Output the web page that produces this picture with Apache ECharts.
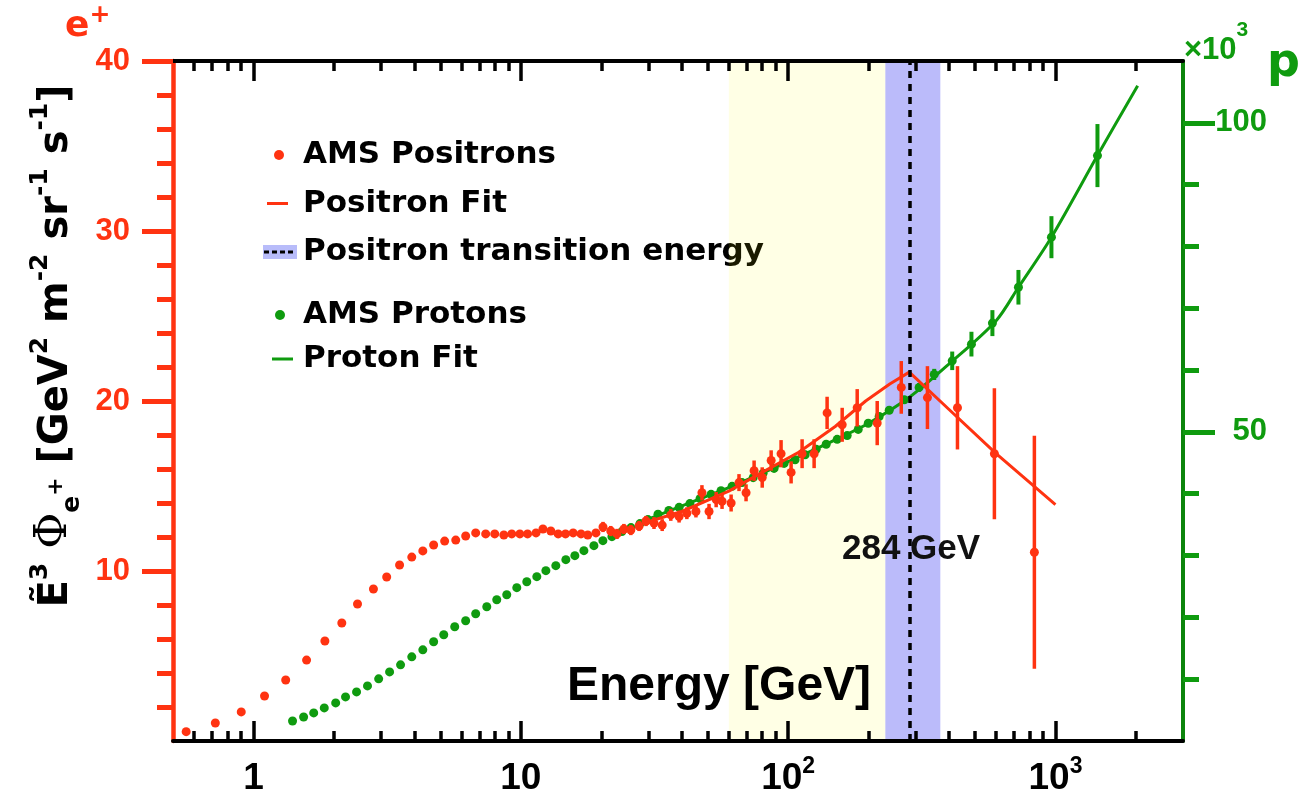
<!DOCTYPE html>
<html><head><meta charset="utf-8">
<script src="https://cdn.jsdelivr.net/npm/echarts@6/dist/echarts.min.js"></script>
<style>html,body{margin:0;padding:0;background:#fff}#c{width:1301px;height:797px}</style>
</head><body><div id="c"></div>
<script>
// ---- data ----
const posE = [0.56,0.72,0.90,1.10,1.32,1.58,1.85,2.14,2.45,2.81,3.15,3.52,3.91,4.30,4.72,5.19,5.71,6.22,6.78,7.39,7.99,8.64,9.25,9.92,10.6,11.4,12.1,12.95,13.8,14.7,15.7,16.8,17.8,19.1,20.3,21.7,22.9,24.3,25.8,27.7,29.4,31.5,33.8,36.4,39.1,41.8,45.2,47.6,50.6,53.8,56.6,61.2,65.5,69.6,74.6,80.0,86.4,94.1,102.6,112.8,125.1,139.9,159.3,181.3,215.4,265,332,430,591,834];
const posV = [0.55,1.06,1.71,2.65,3.59,4.76,5.88,6.94,8.06,8.94,9.65,10.35,10.82,11.18,11.53,11.76,11.82,12.06,12.24,12.18,12.18,12.12,12.18,12.18,12.18,12.24,12.47,12.35,12.18,12.18,12.24,12.18,12.12,12.24,12.59,12.35,12.18,12.47,12.41,12.65,12.94,12.82,12.7,13.3,13.2,13.4,13.5,14.6,13.5,14.2,14.1,14.0,15.2,14.6,15.9,15.5,16.5,16.9,15.8,16.9,16.9,19.3,18.6,19.6,18.7,20.8,20.2,19.6,16.9,11.1];
const posErr = [0,0,0,0,0,0,0,0,0,0,0,0,0,0,0,0,0,0,0,0,0,0,0,0,0,0,0,0,0,0.2,0.2,0.2,0.2,0.2,0.3,0.3,0.3,0.3,0.3,0.3,0.3,0.35,0.35,0.35,0.35,0.35,0.35,0.45,0.45,0.45,0.45,0.5,0.5,0.5,0.6,0.6,0.6,0.8,0.65,0.85,0.85,0.95,1.0,1.1,1.3,1.55,1.85,2.45,3.85,6.85];

const protE = [1.40,1.54,1.68,1.84,2.03,2.21,2.43,2.67,2.94,3.23,3.55,3.91,4.30,4.72,5.15,5.66,6.22,6.78,7.46,8.13,8.86,9.66,10.53,11.48,12.41,13.52,14.74,15.93,17.22,18.77,20.28,21.92,23.89,25.83,27.91,29.90,32.6,35.8,39.1,42.9,46.8,51.5,56.1,61.7,67.2,74.0,80.6,88.6,96.6,106.2,115.8,127.3,138.8,152.6,166.3,182.9,199.4,219.1,238.9,272,309,352,411,485,581,727,966,1436];
const protV = [3.24,3.89,4.54,5.35,6.16,7.13,7.94,8.91,10.05,11.18,12.32,13.61,14.75,16.05,17.18,18.48,19.45,20.58,21.72,22.85,23.66,24.80,25.77,26.58,27.55,28.36,29.34,29.98,30.79,31.60,32.41,33.06,33.87,34.52,35.17,35.82,36.7,37.3,37.8,38.4,39.2,39.9,40.5,41.2,41.8,42.6,43.3,44.1,44.9,45.5,46.3,47.2,48.0,48.8,49.4,50.4,51.4,52.5,53.5,55.2,57.2,59.3,61.5,64.2,67.6,73.4,81.5,94.7];
const protErr = [0,0,0,0,0,0,0,0,0,0,0,0,0,0,0,0,0,0,0,0,0,0,0,0,0,0,0,0,0,0,0,0,0,0,0,0,0,0,0,0,0,0,0,0,0,0,0,0,0,0.3,0.3,0.3,0.3,0.3,0.3,0.35,0.35,0.4,0.45,0.6,0.7,0.9,1.5,2.0,2.1,2.8,3.4,5.1];

const posFitE = [30,40,60,80,110,150,195,240,284,400,600,1000];
const posFitV = [12.9,13.5,14.7,15.8,17.0,18.5,20.0,21.0,21.7,19.5,16.9,13.9];
const protFitE = [30,45,60,100,150,200,284,400,600,727,966,1436,2030];
const protFitV = [35.9,38.9,41.0,45.2,48.7,51.4,55.6,61.0,68.0,73.4,81.5,94.7,106.0];

const transitionEnergy = 284;
const transitionBand = [231, 371];
const yellowBand = [60, 231];

const xMajorTicks = [1,10,100,1000];
const xMinorTicks = [0.6,0.7,0.8,0.9,2,3,4,5,6,7,8,9,20,30,40,50,60,70,80,90,200,300,400,500,600,700,800,900,2000];
const yLeftLabels = [10,20,30,40];
const yLeftMinor = [2,4,6,8,12,14,16,18,22,24,26,28,32,34,36,38];
const yRightLabels = [50,100];
const yRightMinor = [10,20,30,40,60,70,80,90];

// ---- styling ----
const RED = '#ff3311', GREEN = '#0f9b0f', GREEN_AX = '#0c850c';
const LS = 'Liberation Sans, Arial, sans-serif';
const DV = 'DejaVu Sans, sans-serif';

function zip(a, b) { return a.map((v, i) => [v, b[i]]); }
function errData(E, V, Err) {
  const d = [];
  for (let i = 0; i < E.length; i++) if (Err[i] > 0) d.push([E[i], V[i] - Err[i], V[i] + Err[i]]);
  return d;
}
function errSeries(data, yIdx, color, width, z) {
  return {
    type: 'custom', xAxisIndex: 0, yAxisIndex: yIdx, z: z, silent: true, clip: true,
    encode: { x: 0, y: [1, 2] }, data: data,
    renderItem: function (params, api) {
      const a = api.coord([api.value(0), api.value(1)]);
      const b = api.coord([api.value(0), api.value(2)]);
      return { type: 'line', shape: { x1: a[0], y1: a[1], x2: b[0], y2: b[1] },
        style: { stroke: color, lineWidth: width } };
    }
  };
}
function svgIcon(inner) {
  const svg = '<svg xmlns="http://www.w3.org/2000/svg" width="36" height="16" viewBox="0 0 36 16">' + inner + '</svg>';
  return 'image://data:image/svg+xml;charset=utf-8,' + encodeURIComponent(svg);
}
function fmtX(v) {
  const e = Math.round(Math.log10(v));
  if (e === 0) return '{b|1}';
  if (e === 1) return '{b|10}';
  return '{b|10}{s|' + e + '}';
}

const legendText = { fontSize: 31, fontWeight: 'bold', color: '#000', fontFamily: DV, lineHeight: 36 };

function xAx(pos, ticks, len, line, labels) {
  return {
    type: 'log', logBase: 10, min: 0.5, max: 3000, position: pos, z: 20,
    axisLine: { show: line, onZero: false, lineStyle: { color: '#000', width: 4 } },
    axisTick: { show: true, inside: true, length: len, customValues: ticks, lineStyle: { color: '#000', width: 3.5 } },
    minorTick: { show: false },
    axisLabel: labels ? {
      show: true, customValues: xMajorTicks, margin: 14, formatter: fmtX,
      rich: {
        b: { fontSize: 37, fontWeight: 'bold', fontFamily: LS, color: '#000', lineHeight: 42, verticalAlign: 'bottom' },
        s: { fontSize: 23, fontWeight: 'bold', fontFamily: LS, color: '#000', lineHeight: 24, verticalAlign: 'top' }
      }
    } : { show: false },
    splitLine: { show: false }
  };
}
function yAx(pos, max, ticks, len, color, line, labels, extra) {
  return {
    type: 'value', min: 0, max: max, position: pos, z: 20,
    axisLine: { show: line, onZero: false, lineStyle: { color: pos === 'left' ? RED : GREEN_AX, width: pos === 'left' ? 4.5 : 4 } },
    axisTick: { show: true, inside: false, length: len, customValues: ticks, lineStyle: { color: color, width: 5 } },
    minorTick: { show: false },
    axisLabel: labels ? Object.assign({ show: true, customValues: labels, color: color, fontSize: 31, fontWeight: 'bold', fontFamily: LS }, extra || {}) : { show: false },
    splitLine: { show: false }
  };
}

const yLeft = yAx('left', 40, yLeftMinor, 16, RED, true, yLeftLabels, { margin: 43 });
yLeft.name = '{b|Ẽ}{sup|3}{b| }{phi|Φ}{sub|e}{subsup|+}{b| [GeV}{sup|2}{b| m}{sup|-2}{b| sr}{sup|-1}{b| s}{sup|-1}{b|]}';
yLeft.nameLocation = 'middle';
yLeft.nameRotate = 90;
yLeft.nameGap = 84;
yLeft.nameTextStyle = {
  color: '#000', fontFamily: DV, fontWeight: 'bold', fontSize: 40, padding: [0, 0, 0, 110],
  rich: {
    b: { fontSize: 40, fontWeight: 'bold', fontFamily: DV, color: '#000', lineHeight: 44, verticalAlign: 'bottom', padding: [0, 0, 8, 0] },
    sup: { fontSize: 25, fontWeight: 'bold', fontFamily: DV, color: '#000', lineHeight: 25, verticalAlign: 'bottom', padding: [0, 0, 32, 0] },
    phi: { fontSize: 44, fontWeight: 'normal', fontFamily: 'DejaVu Serif, serif', color: '#000', lineHeight: 44, verticalAlign: 'bottom', padding: [0, 0, 8, 0] },
    sub: { fontSize: 25, fontWeight: 'bold', fontFamily: DV, color: '#000', lineHeight: 25, verticalAlign: 'bottom' },
    subsup: { fontSize: 22, fontWeight: 'bold', fontFamily: DV, color: '#000', lineHeight: 22, verticalAlign: 'bottom', padding: [0, 0, 17, 0] }
  }
};
const yRight = yAx('right', 110, yRightMinor, 16, GREEN, true, yRightLabels, { margin: 84, align: 'right' });

const option = {
  animation: false,
  backgroundColor: '#fff',
  grid: { left: 173, right: 118, top: 61, bottom: 56, containLabel: false, outerBoundsMode: 'none' },
  title: [
    { text: '{e|e}{p|+}', left: 65, top: 3, padding: 0, z: 30,
      textStyle: { rich: {
        e: { fontSize: 36, fontWeight: 'bold', fontFamily: DV, color: RED, lineHeight: 42, verticalAlign: 'bottom' },
        p: { fontSize: 25, fontWeight: 'bold', fontFamily: DV, color: RED, lineHeight: 25, verticalAlign: 'top' } } } },
    { text: '{a|×10}{s|3}', left: 1184, top: 20, padding: 0, z: 30,
      textStyle: { rich: {
        a: { fontSize: 31, fontWeight: 'bold', fontFamily: LS, color: GREEN, lineHeight: 46, verticalAlign: 'bottom' },
        s: { fontSize: 21, fontWeight: 'bold', fontFamily: LS, color: GREEN, lineHeight: 21, verticalAlign: 'top' } } } },
    { text: 'p', left: 1267, top: 40, padding: 0, z: 30,
      textStyle: { fontSize: 46, fontWeight: 'bold', fontFamily: DV, color: GREEN, lineHeight: 48 } },
    { text: 'Energy [GeV]', left: 567, top: 663, padding: 0, z: 1,
      textStyle: { fontSize: 48, fontWeight: 'bold', fontFamily: LS, color: '#000', lineHeight: 48 } },
    { text: '284 GeV', left: 842, top: 532, padding: 0, z: 1,
      textStyle: { fontSize: 35, fontWeight: 'bold', fontFamily: LS, color: '#111', lineHeight: 35 } }
  ],
  legend: [
    { orient: 'vertical', left: 262, top: 137, itemWidth: 36, itemHeight: 16, itemGap: 12.5, itemTextGap: 22, padding: 0, z: 1,
      selectedMode: false, textStyle: legendText,
      data: [
        { name: 'AMS Positrons', icon: svgIcon('<circle cx="17" cy="8" r="5" fill="' + RED + '"/>') },
        { name: 'Positron Fit', icon: svgIcon('<rect x="5" y="6.5" width="21" height="3" fill="' + RED + '"/>') },
        { name: 'Positron transition energy', icon: svgIcon('<rect x="1" y="1" width="34" height="14" fill="rgb(184,188,250)"/><line x1="2" y1="8" x2="34" y2="8" stroke="#000" stroke-width="3" stroke-dasharray="5,3"/>') }
      ] },
    { orient: 'vertical', left: 262, top: 297, itemWidth: 36, itemHeight: 16, itemGap: 8, itemTextGap: 22, padding: 0, z: 1,
      selectedMode: false, textStyle: legendText,
      data: [
        { name: 'AMS Protons', icon: svgIcon('<circle cx="18" cy="8" r="5" fill="' + GREEN + '"/>') },
        { name: 'Proton Fit', icon: svgIcon('<rect x="10" y="6.5" width="21" height="3" fill="' + GREEN + '"/>') }
      ] }
  ],
  xAxis: [
    xAx('bottom', xMajorTicks, 20, true, true),
    xAx('bottom', xMinorTicks, 10, false, false),
    xAx('top', xMajorTicks, 20, true, false),
    xAx('top', xMinorTicks, 10, false, false)
  ],
  yAxis: [
    yLeft,
    yRight,
    yAx('left', 40, yLeftLabels, 31, RED, false, null),
    yAx('right', 110, yRightLabels, 32, GREEN, false, null)
  ],
  series: [
    { name: 'AMS Protons', type: 'scatter', xAxisIndex: 0, yAxisIndex: 1, z: 2, silent: true,
      symbol: 'circle', symbolSize: 9, itemStyle: { color: GREEN, opacity: 1 }, data: zip(protE, protV) },
    errSeries(errData(protE, protV, protErr), 1, GREEN, 4, 2),
    { name: 'Proton Fit', type: 'line', xAxisIndex: 0, yAxisIndex: 1, z: 2, silent: true,
      smooth: 0.3, showSymbol: false, symbol: 'none', lineStyle: { color: GREEN, width: 3 }, itemStyle: { color: GREEN },
      data: zip(protFitE, protFitV) },
    errSeries(errData(posE, posV, posErr), 0, RED, 3.5, 3),
    { name: 'AMS Positrons', type: 'scatter', xAxisIndex: 0, yAxisIndex: 0, z: 3, silent: true,
      symbol: 'circle', symbolSize: 9, itemStyle: { color: RED, opacity: 1 }, data: zip(posE, posV) },
    { name: 'Positron Fit', type: 'line', xAxisIndex: 0, yAxisIndex: 0, z: 3, silent: true,
      smooth: false, showSymbol: false, symbol: 'none', lineStyle: { color: RED, width: 3 }, itemStyle: { color: RED },
      data: zip(posFitE, posFitV) },
    { name: 'Positron transition energy', type: 'line', xAxisIndex: 0, yAxisIndex: 0, z: 10, data: [],
      itemStyle: { color: 'rgb(184,188,250)' },
      markArea: { silent: true, label: { show: false },
        data: [
          [{ xAxis: yellowBand[0], itemStyle: { color: 'rgba(255,255,0,0.1)' } }, { xAxis: yellowBand[1] }],
          [{ xAxis: transitionBand[0], itemStyle: { color: 'rgba(60,60,240,0.35)' } }, { xAxis: transitionBand[1] }]
        ] } },
    { name: 'transition line', type: 'line', xAxisIndex: 0, yAxisIndex: 0, z: 11, data: [],
      markLine: { silent: true, symbol: ['none', 'none'], label: { show: false },
        lineStyle: { color: '#000', type: [7, 6], width: 3.5 },
        data: [{ xAxis: transitionEnergy }] } }
  ]
};
const chart = echarts.init(document.getElementById('c'), null, { renderer: 'canvas' });
chart.setOption(option);
</script>
</body></html>
